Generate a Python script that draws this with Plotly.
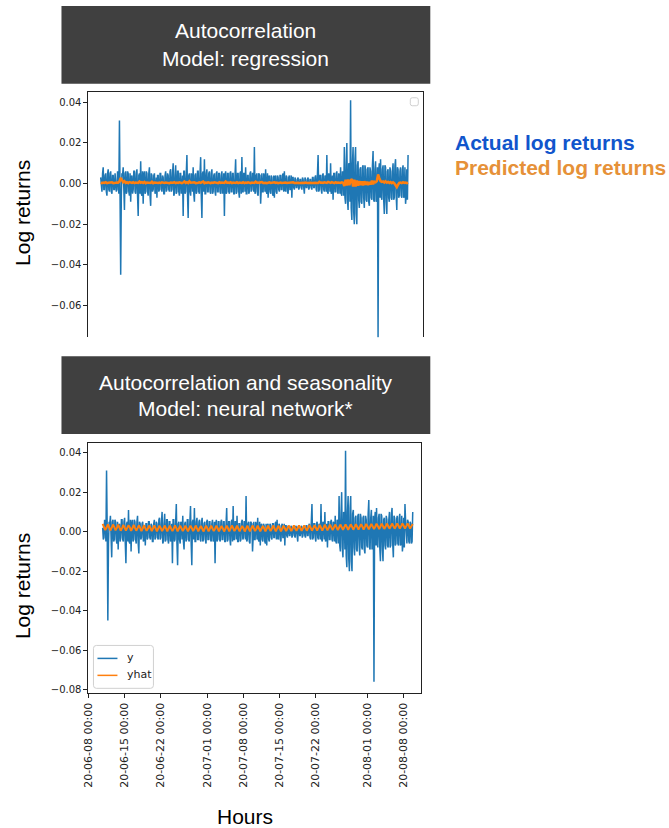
import numpy as np
import pandas as pd
import plotly.graph_objects as go

# ---------------- data (log returns in units of 0.001) ----------------
# samples on the 6-hour grid (18:00, 00:00, 06:00, 12:00 ...)
actual_milli = [
    2, -3, 4, 31, -45, 5, 8, -13, 6, -4,
    5, -6, -9, 4, -3, 6, -5, 7, -16, 5,
    11, -6, -10, 6, -4, 5, -6, 8, -11, 4,
    -3, 5, -4, -7, 4, -3, 5, -4, 3, -5,
    6, -3, 4, -4, 7, -3, 10, -5, 9, -4,
    6, -6, 5, -3, -16, 6, -4, 14, -17, 5,
    -6, 4, 8, -9, 5, -4, 6, -5, 13, -17,
    6, 12, -5, 7, -4, 6, -5, 7, -4, 5,
    -6, 6, -4, 5, -5, 6, -3, -16, 6, -4,
    5, -5, 6, -4, 5, -5, 12, -4, 5, -7,
    6, 13, -4, 5, 8, -5, 4, -4, 6, -3,
    5, 18, -4, 5, -6, 4, -10, 5, -4, 3,
    7, -5, -7, 4, -5, 3, -6, -7, 4, -5,
    3, -4, 4, -3, 5, 6, -4, 3, -5, 4,
    -3, -7, 3, -3, 2, -2, 3, -2, 2, -3,
    2, -5, 2, -2, 3, -2, 2, -3, 3, -2,
    4, -4, 14, -3, 4, -5, 5, -4, 3, 14,
    -5, 4, 10, -4, -8, 5, -4, 6, -5, 4,
    8, -6, 5, 18, -10, 20, -13, 9, 41, -18,
    18, -20, 18, -20, 11, -12, 8, -10, 9, -12,
    7, -9, 8, -11, 6, -8, 16, -9, 11, -7,
    -76, 10, 12, -8, 9, -15, 8, -15, 7, -9,
    6, -8, 10, -7, 12, -13, 7, -6, 8, -7,
    9, -6, -10, 7, 14, -5, 6, -5, 5, -6,
    10,
]
# samples three hours after each grid point
actual_mid_milli = [
    -4, 6, -5, 2, -6, 4, -7, 5, -5, 6,
    -4, 5, 3, -5, 6, -4, 5, -6, 4, -5,
    -5, 6, 4, -5, 6, -4, 5, -6, 5, -4,
    4, -5, 3, 4, -4, 5, -3, 4, -5, 4,
    -4, 5, -3, 6, -4, 5, -6, 4, -5, 6,
    -4, 5, -5, 4, 6, -5, 5, -6, 4, -4,
    5, -4, -5, 4, -5, 6, -4, 5, -6, 5,
    -4, -5, 5, -4, 5, -4, 5, -5, 4, -4,
    5, -4, 5, -4, 4, -5, 5, 4, -5, 5,
    -4, 5, -4, 5, -5, 4, -5, 5, -4, 5,
    -5, -4, 5, -4, -5, 4, -5, 5, -4, 5,
    -4, -5, 4, -5, 5, 4, 5, -4, 5, -4,
    -4, 5, 3, -4, 4, -5, 4, 3, -4, 4,
    -3, 4, -3, 4, -4, -3, 4, -4, 3, -3,
    4, 3, -2, 3, -2, 2, -3, 2, -2, 3,
    -2, 3, -2, 2, -3, 2, -2, 3, -2, 3,
    -3, 5, -4, 4, -3, 4, -3, 4, -4, -4,
    5, -4, -5, 4, 5, -4, 5, -4, 5, -5,
    -5, 6, -6, -7, 9, -8, 10, -9, -12, 10,
    -14, 12, -15, 9, -8, 7, -9, 8, -7, 9,
    -8, 7, -9, 8, -7, 9, -8, 7, -9, 8,
    6, -7, -6, 7, -8, 9, -9, 6, -7, 8,
    -7, 6, -8, 9, -6, 8, -7, 6, -6, 7,
    -7, 8, -6, -8, 5, -6, 5, -6, 4, -5,
]

# the regression window starts three days earlier (3-hourly values) and ends ~1.5 days earlier
early_actual_milli = [3, -2, -4, 5, 8, -3, -3, 4, 5, -4, -6, 5,
                      7, -3, -4, 5, 6, -4, -5, 4, 4, -3, -3, 5]
reg_grid_count = 235

reg_pred_milli = [
    0.4, 0.2, 0.5, 0.3, 0.6, 0.2, 0.4, 0.5, 0.3, 0.6, 0.2, 0.4,
    0.3, 0.5, 0.4, 1.0, 2.8, 2.0, 0.6, 1.2, 0.3, 0.6, 0.2, 0.7,
    0.5, 0.3, 0.6, 0.2, 0.5, 0.4, 0.3, 1.0, 0.4, 0.7,
    0.3, 0.8, 0.2, 0.5, 0.4, 0.6, 0.3, 0.9, 0.2, 0.5,
    0.4, 0.6, 0.3, 0.5, 0.2, 0.6, 0.4, 0.3, 0.5, 0.4,
    0.6, 0.2, 0.5, 0.3, 0.4, 0.7, 0.2, 0.5, 0.3, 0.6,
    0.4, 0.2, 0.5, 1.0, 0.3, 0.6, 0.2, 1.1, 0.4, 0.5,
    0.3, 0.6, 0.2, 0.5, 0.4, 0.6, 0.3, 0.7, 1.0, 0.2,
    0.5, 0.3, 0.6, 0.4, 0.2, 0.5, 0.3, 0.6, 0.4, 0.5,
    0.2, 0.6, 0.3, 0.5, 0.4, 0.3, 1.0, 0.4, 0.5, 0.3,
    0.6, 0.2, 0.5, 0.4, 0.3, 0.6, 0.2, 0.5, 0.4, 0.3,
    0.6, 0.2, 0.5, 0.3, 0.6, 0.4, 0.2, 0.5, 0.4, 0.3,
    0.9, 0.4, 0.5, 0.3, 0.6, 0.7, 0.3, 0.5, 0.4, 0.2,
    0.5, 0.6, 0.3, 0.5, 0.4, 0.6, 0.3, 0.5, 0.2, 0.4,
    0.5, 0.3, 0.4, 0.2, 0.5, 0.3, 0.4, 0.5, 0.3, 0.4,
    0.6, 0.3, 0.4, 0.3, 0.4, 0.3, 0.4, 0.3, 0.4, 0.3,
    0.5, 0.3, 0.4, 0.3, 0.4, 0.3, 0.4, 0.3, 0.4, 0.3,
    0.3, 0.8, 0.4, 0.5, 0.3, 0.6, 0.4, 0.3, 0.8, 0.4,
    0.3, 0.7, 0.5, 0.2, 0.6, 0.3, 0.5, 0.4, 0.3, 0.6,
    0.4,
    -1.2, 1.8, -1.0, 2.0, -0.8, 1.6, 2.2, -1.5, 1.9, -1.4,
    1.5, -1.0, 1.2, -0.8, 1.0, -0.9, 1.1, -0.6, 0.9, -0.7,
    0.8, -0.5, 1.4, -0.4, 0.9, 0.6, 1.2,
    4.5, 2.6, 1.2, 0.8, 1.0, 0.5, 1.1, 0.4, 0.8, 0.3,
    0.7, 0.2, 0.6, 0.1, -0.8, -1.8, -0.6, 0.3, 0.5, 0.2,
    0.6, 0.3, 0.5, 0.2, 0.4,
]

nn_pred_milli = [
    3.9, 2.4, 0.8, 2.1, 3.7, 2.2, 0.6, 2.0, 3.6, 2.3, 0.7, 1.9,
    3.5, 2.1, 0.5, 1.8, 3.4, 2.0, 0.6, 1.9, 3.3, 2.1, 0.4, 1.7,
    3.4, 1.9, 0.5, 1.8, 3.2, 2.0, 0.3, 1.7, 3.3, 1.8, 0.4, 1.6,
    3.1, 1.9, 0.3, 1.7, 3.2, 1.7, 0.2, 1.6, 3.0, 1.8, 0.3, 1.5,
    3.1, 1.7, 0.2, 1.6, 3.0, 1.6, 0.3, 1.5, 3.2, 1.8, 0.2, 1.6,
    3.0, 1.7, 0.3, 1.5, 3.1, 1.6, 0.2, 1.6, 3.0, 1.8, 0.3, 1.5,
    3.1, 1.7, 0.2, 1.6, 2.9, 1.6, 0.1, 1.5, 3.0, 1.7, 0.2, 1.6,
    3.1, 1.6, 0.3, 1.5, 3.0, 1.7, 0.2, 1.6, 2.9, 1.6, 0.1, 1.5,
    3.0, 1.7, 0.2, 1.6, 3.1, 1.8, 0.3, 1.5, 3.0, 1.6, 0.2, 1.6,
    2.9, 1.7, 0.1, 1.5, 3.0, 1.6, 0.2, 1.6, 3.1, 1.7, 0.3, 1.5,
    3.0, 1.6, 0.2, 1.6, 2.9, 1.7, 0.2, 1.5, 3.0, 1.6, 0.3, 1.6,
    3.1, 1.7, 0.2, 1.5, 3.0, 1.6, 0.2, 1.6, 3.0, 1.7, 0.3, 1.6,
    3.1, 1.8, 0.3, 1.6, 3.2, 1.8, 0.4, 1.7, 3.1, 1.9, 0.4, 1.7,
    3.2, 1.9, 0.5, 1.8, 3.3, 2.0, 0.5, 1.8, 3.3, 2.0, 0.6, 1.9,
    3.4, 2.1, 0.6, 1.9, 3.5, 2.2, 0.7, 2.0, 3.5, 2.2, 0.8, 2.1,
    3.6, 2.3, 0.8, 2.1, 3.6, 2.3, 0.9, 2.2, 3.7, 2.4, 0.9, 2.2,
    3.7, 2.5, 1.0, 2.3, 3.8, 2.5, 1.1, 2.4, 3.8, 2.6, 1.1, 2.4,
    3.9, 2.6, 1.2, 2.5, 3.9, 2.7, 1.3, 2.5, 4.0, 2.8, 1.3, 2.6,
    4.0, 2.8, 1.4, 2.6, 4.1, 2.9, 1.5, 2.7, 4.1, 2.9, 1.5, 2.7,
    4.2, 3.0, 1.6, 2.8, 4.2, 3.0, 1.6, 2.8, 4.1, 3.0, 1.6, 2.8,
    3.9,
]

series_start = "2020-06-10 18:00"
reg_start = "2020-06-07 18:00"

tick_dates = ["2020-06-08", "2020-06-15", "2020-06-22", "2020-07-01", "2020-07-08",
              "2020-07-15", "2020-07-22", "2020-08-01", "2020-08-08"]
tick_labels = ["20-06-08 00:00", "20-06-15 00:00", "20-06-22 00:00", "20-07-01 00:00",
               "20-07-08 00:00", "20-07-15 00:00", "20-07-22 00:00", "20-08-01 00:00",
               "20-08-08 00:00"]
ytick_vals_top = [-0.06, -0.04, -0.02, 0.00, 0.02, 0.04]
ytick_vals_bottom = [-0.08, -0.06, -0.04, -0.02, 0.00, 0.02, 0.04]

# ---------------- derived series ----------------
combined_milli = []
for k, v in enumerate(actual_milli):
    combined_milli.append(v)
    if k < len(actual_mid_milli):
        combined_milli.append(actual_mid_milli[k])

actual = np.array(combined_milli) / 1000.0
reg_actual = np.array(early_actual_milli + combined_milli[:2 * reg_grid_count - 1]) / 1000.0
reg_pred = np.array(reg_pred_milli) / 1000.0
nn_pred = np.array(nn_pred_milli) / 1000.0

x_nn = pd.date_range(series_start, periods=len(actual), freq="3h")
x_nn_pred = pd.date_range(series_start, periods=len(nn_pred), freq="6h")
x_reg = pd.date_range(reg_start, periods=len(reg_actual), freq="3h")
x_reg_pred = pd.date_range(reg_start, periods=len(reg_pred), freq="6h")

BLUE = "#1f77b4"
ORANGE = "#ff7f0e"
W, H = 669, 828
OX, SX = 5.5, 0.9915   # horizontal correction of the rendered page


def px(x):
    return ((x - OX) / SX) / W


def py(y):
    return 1 - y / H


fig = go.Figure()

fig.add_trace(go.Scatter(x=x_reg, y=reg_actual, mode="lines", line=dict(color=BLUE, width=1.5),
                         xaxis="x", yaxis="y", showlegend=False, hoverinfo="skip"))
fig.add_trace(go.Scatter(x=x_reg_pred, y=reg_pred, mode="lines", line=dict(color=ORANGE, width=2.5),
                         xaxis="x", yaxis="y", showlegend=False, hoverinfo="skip"))
fig.add_trace(go.Scatter(x=x_nn, y=actual, mode="lines", name="y", line=dict(color=BLUE, width=1.5),
                         xaxis="x2", yaxis="y2", showlegend=False, hoverinfo="skip"))
fig.add_trace(go.Scatter(x=x_nn_pred, y=nn_pred, mode="lines", name="yhat", line=dict(color=ORANGE, width=2),
                         xaxis="x2", yaxis="y2", showlegend=False, hoverinfo="skip"))

tickfont = dict(family="DejaVu Sans", size=10, color="#222")

fig.update_layout(
    width=W, height=H, autosize=False,
    margin=dict(l=0, r=0, t=0, b=0),
    paper_bgcolor="white", plot_bgcolor="white",
    font=dict(family="Arial", color="#000"),
    showlegend=False,
    xaxis=dict(domain=[px(88), px(423)], anchor="y", side="top",
               range=["2020-06-05 07:12", "2020-08-11 07:12"],
               showline=True, linecolor="#222", linewidth=1,
               showgrid=False, zeroline=False, showticklabels=False, ticks=""),
    yaxis=dict(domain=[py(338), py(92)], anchor="x",
               range=[-0.0757, 0.0452], tickvals=ytick_vals_top, tickformat=".2f",
               showline=True, mirror=True, linecolor="#222", linewidth=1,
               ticks="outside", ticklen=4, tickcolor="#222", tickfont=tickfont,
               showgrid=False, zeroline=False),
    xaxis2=dict(domain=[px(88), px(421)], anchor="y2",
                range=["2020-06-08 00:00", "2020-08-11 09:50"],
                tickvals=tick_dates, ticktext=tick_labels, tickangle=-90,
                showline=True, mirror=True, linecolor="#222", linewidth=1,
                ticks="outside", ticklen=4, tickcolor="#222",
                tickfont=dict(family="DejaVu Sans", size=11, color="#222"),
                showgrid=False, zeroline=False),
    yaxis2=dict(domain=[py(695), py(444)], anchor="x2",
                range=[-0.0818, 0.0449], tickvals=ytick_vals_bottom, tickformat=".2f",
                showline=True, mirror=True, linecolor="#222", linewidth=1,
                ticks="outside", ticklen=4, tickcolor="#222", tickfont=tickfont,
                showgrid=False, zeroline=False),
)


def rounded_rect(x0, y0, x1, y1, r):
    rx, ry = r / W, r / H
    X0, X1, Y0, Y1 = px(x0), px(x1), py(y0), py(y1)
    return (f"M {X0 + rx},{Y0} L {X1 - rx},{Y0} Q {X1},{Y0} {X1},{Y0 - ry} "
            f"L {X1},{Y1 + ry} Q {X1},{Y1} {X1 - rx},{Y1} L {X0 + rx},{Y1} "
            f"Q {X0},{Y1} {X0},{Y1 + ry} L {X0},{Y0 - ry} Q {X0},{Y0} {X0 + rx},{Y0} Z")


shapes = [
    dict(type="rect", xref="paper", yref="paper", x0=px(61), x1=px(430), y0=py(84), y1=py(6),
         fillcolor="#404040", line=dict(width=0), layer="below"),
    dict(type="rect", xref="paper", yref="paper", x0=px(61), x1=px(430), y0=py(435), y1=py(357),
         fillcolor="#404040", line=dict(width=0), layer="below"),
    dict(type="path", xref="paper", yref="paper", path=rounded_rect(410, 98, 418, 106, 2),
         fillcolor="white", line=dict(color="#d0d0d0", width=1)),
    dict(type="path", xref="paper", yref="paper", path=rounded_rect(93, 647, 153, 690, 3),
         fillcolor="rgba(255,255,255,0.85)", line=dict(color="#d0d0d0", width=1)),
    dict(type="line", xref="paper", yref="paper", x0=px(97), x1=px(117), y0=py(660), y1=py(660),
         line=dict(color=BLUE, width=1.5)),
    dict(type="line", xref="paper", yref="paper", x0=px(97), x1=px(117), y0=py(677), y1=py(677),
         line=dict(color=ORANGE, width=1.5)),
]
fig.update_layout(shapes=shapes)

ann = []


def text(x, y, s, size, color, bold=False, angle=0, family="Arial", xanchor="center"):
    ann.append(dict(x=px(x), y=py(y), xref="paper", yref="paper", text=(f"<b>{s}</b>" if bold else s),
                    showarrow=False, xanchor=xanchor, yanchor="middle", textangle=angle,
                    font=dict(family=family, size=size, color=color)))


text(245.5, 31, "Autocorrelation", 21, "white")
text(245.5, 59, "Model: regression", 21, "white")
text(245.5, 383, "Autocorrelation and seasonality", 21, "white")
text(245.5, 409, "Model: neural network*", 21, "white")
text(22, 213, "Log returns", 21, "black", angle=-90)
text(22, 587, "Log returns", 21, "black", angle=-90)
text(245, 818, "Hours", 21, "black")
text(453, 143, "Actual log returns", 21, "#1155cc", bold=True, xanchor="left")
text(453, 168, "Predicted log returns", 21, "#e69138", bold=True, xanchor="left")
text(125, 659, "y", 11, "#222", family="DejaVu Sans", xanchor="left")
text(125, 676, "yhat", 11, "#222", family="DejaVu Sans", xanchor="left")
fig.update_layout(annotations=ann)

fig.write_html("out.html")
